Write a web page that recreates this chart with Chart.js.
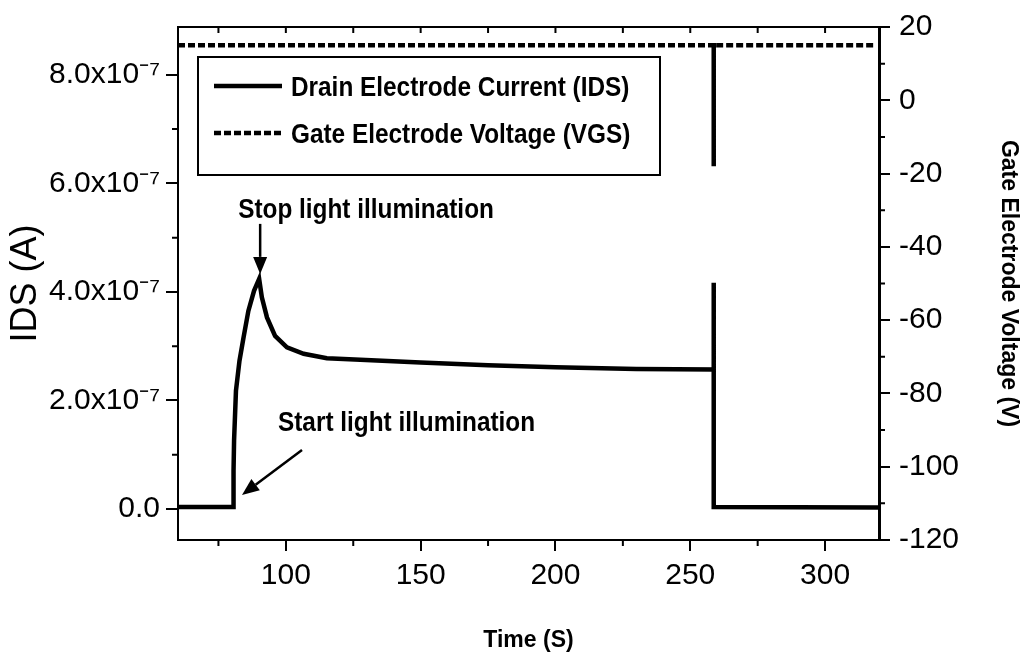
<!DOCTYPE html>
<html lang="en">
<head>
<meta charset="utf-8">
<style>
    html, body {
        margin: 0;
        padding: 0;
        background-color: #fff;
    }
    #chart {
        display: block;
    }
</style>
</head>
<body>

<canvas id="chart" width="1027" height="657"></canvas>

<script src="https://cdn.jsdelivr.net/npm/chart.js"></script>
<script>
    // Drain electrode current IDS (A) versus time (s)
    const idsTime = [60, 80.4, 80.6, 80.8, 81.5, 82.8, 84.3, 86.1, 88.2, 90.1,
        91.1, 93, 96, 100.4, 106.6, 115.2, 127.6, 150, 175, 200, 230, 258.7, 258.7, 258.7, 320];
    const idsValues = [0.04e-7, 0.04e-7, 0.7e-7, 1.27e-7, 2.18e-7, 2.73e-7, 3.16e-7, 3.65e-7, 4.02e-7, 4.24e-7,
        3.9e-7, 3.53e-7, 3.19e-7, 2.98e-7, 2.86e-7, 2.78e-7, 2.75e-7, 2.70e-7, 2.65e-7, 2.61e-7, 2.58e-7, 2.57e-7, 4.17e-7, 0.04e-7, 0.03e-7];

    // Gate electrode voltage VGS (V) versus time (s)
    const vgsTime = [60, 258.7, 258.7, 258.7, 318];
    const vgsValues = [15, 15, -18, 15, 15];

    // axis ticks
    const timeTicks = [100, 150, 200, 250, 300];
    const timeMinorTicks = [75, 125, 175, 225, 275];
    const idsTicks = [0, 2e-7, 4e-7, 6e-7, 8e-7];
    const idsTickLabels = ['0.0', '2.0x10\u207B\u2077', '4.0x10\u207B\u2077', '6.0x10\u207B\u2077', '8.0x10\u207B\u2077'];
    const idsMinorTicks = [1e-7, 3e-7, 5e-7, 7e-7];
    const vgsTicks = [20, 0, -20, -40, -60, -80, -100, -120];
    const vgsMinorTicks = [10, -10, -30, -50, -70, -90, -110];

    const labelFont = { family: "'Liberation Sans', Arial, sans-serif", size: 30 };
    const boldFont = "bold 28px 'Liberation Sans', Arial, sans-serif";

    // condensed bold text, like the narrow face of the original
    function narrowText(ctx, text, x, y) {
        ctx.save();
        ctx.translate(x, y);
        ctx.scale(0.87, 1);
        ctx.font = boldFont;
        ctx.textAlign = 'left';
        ctx.textBaseline = 'middle';
        ctx.fillText(text, 0, 0);
        ctx.restore();
    }

    // arrow with a filled head
    function drawArrow(ctx, x1, y1, x2, y2) {
        const ang = Math.atan2(y2 - y1, x2 - x1);
        const headLen = 17, headW = 7;
        const bx = x2 - headLen * Math.cos(ang);
        const by = y2 - headLen * Math.sin(ang);
        ctx.beginPath();
        ctx.moveTo(x1, y1);
        ctx.lineTo(bx, by);
        ctx.lineWidth = 2.5;
        ctx.stroke();
        ctx.beginPath();
        ctx.moveTo(x2, y2);
        ctx.lineTo(bx + headW * Math.sin(ang), by - headW * Math.cos(ang));
        ctx.lineTo(bx - headW * Math.sin(ang), by + headW * Math.cos(ang));
        ctx.closePath();
        ctx.fill();
    }

    // frame, minor ticks, legend box and the two annotations
    const extrasPlugin = {
        id: 'extras',
        afterDraw(chart) {
            const ctx = chart.ctx;
            const area = chart.chartArea;
            const sx = chart.scales.x, sy = chart.scales.y, sy1 = chart.scales.y1;
            ctx.save();
            ctx.strokeStyle = '#000';
            ctx.fillStyle = '#000';
            ctx.lineCap = 'butt';

            // top border with inward ticks
            ctx.lineWidth = 2;
            ctx.beginPath();
            ctx.moveTo(area.left, area.top);
            ctx.lineTo(area.right, area.top);
            timeTicks.concat(timeMinorTicks).forEach(v => {
                const px = sx.getPixelForValue(v);
                ctx.moveTo(px, area.top);
                ctx.lineTo(px, area.top + 6);
            });
            // minor ticks on the outside
            timeMinorTicks.forEach(v => {
                const px = sx.getPixelForValue(v);
                ctx.moveTo(px, area.bottom);
                ctx.lineTo(px, area.bottom + 6);
            });
            idsMinorTicks.forEach(v => {
                const py = sy.getPixelForValue(v);
                ctx.moveTo(area.left, py);
                ctx.lineTo(area.left - 6, py);
            });
            vgsMinorTicks.forEach(v => {
                const py = sy1.getPixelForValue(v);
                ctx.moveTo(area.right, py);
                ctx.lineTo(area.right + 6, py);
            });
            ctx.stroke();

            // legend
            ctx.lineWidth = 2;
            ctx.strokeRect(198, 57, 462, 118);
            const ds = chart.data.datasets;
            const rows = [86, 133];
            ds.forEach((d, i) => {
                ctx.beginPath();
                ctx.lineWidth = d.borderWidth;
                ctx.setLineDash(d.borderDash || []);
                ctx.moveTo(214, rows[i]);
                ctx.lineTo(282, rows[i]);
                ctx.stroke();
                ctx.setLineDash([]);
                narrowText(ctx, d.label, 291, rows[i] + 2);
            });

            // "Stop light illumination" arrow points at the peak
            const peakIdx = idsValues.indexOf(Math.max(...idsValues));
            const px = sx.getPixelForValue(idsTime[peakIdx]) + 1;
            const py = sy.getPixelForValue(idsValues[peakIdx]) - 5;
            drawArrow(ctx, px, py - 50, px, py);
            narrowText(ctx, 'Stop light illumination', px - 22, py - 64);

            // "Start light illumination" arrow points at the rise
            const sxp = sx.getPixelForValue(idsTime[1]) + 9;
            const syp = sy.getPixelForValue(idsValues[1]) - 12;
            drawArrow(ctx, sxp + 60, syp - 45, sxp, syp);
            narrowText(ctx, 'Start light illumination', sxp + 36, syp - 72);

            ctx.restore();
        }
    };

    new Chart(document.getElementById('chart').getContext('2d'), {
        type: 'scatter',
        data: {
            datasets: [
                {
                    label: 'Drain Electrode Current (IDS)',
                    data: idsTime.map((t, i) => ({ x: t, y: idsValues[i] })),
                    yAxisID: 'y',
                    showLine: true,
                    borderColor: '#000',
                    borderWidth: 4.5,
                    pointRadius: 0,
                    tension: 0
                },
                {
                    label: 'Gate Electrode Voltage (VGS)',
                    data: vgsTime.map((t, i) => ({ x: t, y: vgsValues[i] })),
                    yAxisID: 'y1',
                    showLine: true,
                    borderColor: '#000',
                    borderWidth: 4.5,
                    borderDash: [7, 3],
                    pointRadius: 0,
                    tension: 0
                }
            ]
        },
        options: {
            responsive: false,
            animation: false,
            devicePixelRatio: 1,
            layout: { padding: { top: 25, left: 0, right: 0, bottom: 0 } },
            plugins: {
                legend: { display: false },
                tooltip: { enabled: false }
            },
            scales: {
                x: {
                    type: 'linear',
                    position: 'bottom',
                    min: 60,
                    max: 320,
                    afterBuildTicks: s => { s.ticks = timeTicks.map(v => ({ value: v })); },
                    afterFit: s => { s.height = 117; },
                    border: { color: '#000', width: 2 },
                    grid: { drawOnChartArea: false, color: '#000', lineWidth: 2, tickLength: 11 },
                    ticks: { color: '#000', font: labelFont, padding: 7, maxRotation: 0 },
                    title: {
                        display: true,
                        text: 'Time (S)',
                        color: '#000',
                        font: { family: "'Liberation Sans', Arial, sans-serif", size: 23, weight: 'bold' },
                        padding: { top: 0, bottom: 3 }
                    }
                },
                y: {
                    type: 'linear',
                    position: 'left',
                    min: -0.57e-7,
                    max: 8.88e-7,
                    afterBuildTicks: s => { s.ticks = idsTicks.map(v => ({ value: v })); },
                    afterFit: s => { s.width = 178; },
                    border: { color: '#000', width: 2 },
                    grid: { drawOnChartArea: false, color: '#000', lineWidth: 2, tickLength: 12 },
                    ticks: {
                        color: '#000',
                        font: labelFont,
                        padding: 6,
                        callback: v => idsTickLabels[idsTicks.indexOf(v)]
                    },
                    title: {
                        display: true,
                        text: 'IDS (A)',
                        color: '#000',
                        font: { family: "'Liberation Sans', Arial, sans-serif", size: 36 },
                        padding: { top: 4, bottom: 0 }
                    }
                },
                y1: {
                    type: 'linear',
                    position: 'right',
                    min: -120,
                    max: 20,
                    afterBuildTicks: s => { s.ticks = vgsTicks.map(v => ({ value: v })); },
                    afterFit: s => { s.width = 148; },
                    border: { color: '#000', width: 3 },
                    grid: { drawOnChartArea: false, color: '#000', lineWidth: 2, tickLength: 11 },
                    ticks: { color: '#000', font: labelFont, padding: 9 },
                    title: {
                        display: true,
                        text: 'Gate Electrode Voltage (V)',
                        color: '#000',
                        font: { family: "'Liberation Sans', Arial, sans-serif", size: 23, weight: 'bold' },
                        padding: { top: 5, bottom: 0 }
                    }
                }
            }
        },
        plugins: [extrasPlugin]
    });
</script>

</body>
</html>
